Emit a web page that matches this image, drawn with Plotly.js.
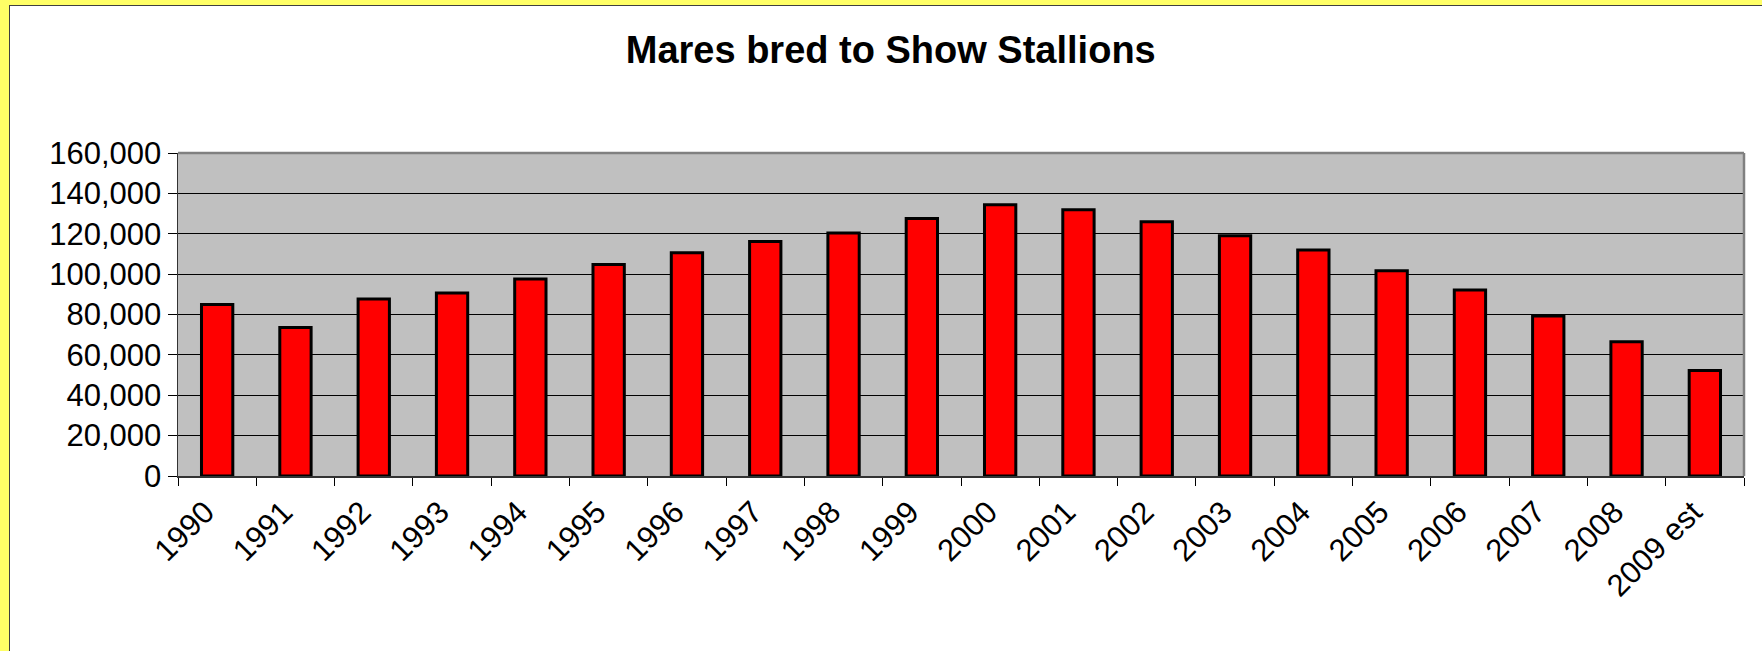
<!DOCTYPE html>
<html>
<head>
<meta charset="utf-8">
<script src="https://cdn.plot.ly/plotly-3.0.1.min.js"></script>
<style>
  html, body { margin: 0; padding: 0; background: #FFFF66; width: 1762px; height: 651px; overflow: hidden; }
  #frame { position: absolute; left: 9px; top: 5px; width: 1753px; height: 646px; background: #ffffff;
           border-left: 1.5px solid #404040; border-top: 1.5px solid #404040; box-sizing: border-box; }
  #chart { position: absolute; left: 0; top: 0; width: 1751px; height: 644px; }
</style>
</head>
<body>
<div id="frame"><div id="chart"></div></div>
<script>
const years = ['1990','1991','1992','1993','1994','1995','1996','1997','1998','1999',
               '2000','2001','2002','2003','2004','2005','2006','2007','2008','2009 est'];
const maresBred = [85000, 73500, 87700, 90700, 97600, 104800, 110600, 116200, 120400, 127500,
                   134400, 131900, 126000, 119000, 112000, 101700, 92100, 79300, 66500, 52300];
const chartTitle = 'Mares bred to Show Stallions';

const trace = {
  type: 'bar',
  x: years,
  y: maresBred,
  marker: { color: '#FF0000', line: { color: '#000000', width: 3 } },
  hoverinfo: 'x+y'
};

const layout = {
  width: 1751,
  height: 644,
  margin: { l: 168, r: 17, t: 147, b: 174 },
  paper_bgcolor: '#ffffff',
  plot_bgcolor: '#C0C0C0',
  bargap: 0.6,
  showlegend: false,
  font: { family: '"Liberation Sans", Arial, sans-serif', color: '#000000' },
  title: {
    text: '<b>' + chartTitle + '</b>',
    font: { size: 38, family: '"Liberation Sans", Arial, sans-serif', color: '#000000' },
    xref: 'container', x: 0.503, xanchor: 'center',
    yref: 'container', y: 0.932, yanchor: 'middle'
  },
  xaxis: {
    type: 'category',
    tickangle: -45,
    tickfont: { size: 31 },
    ticks: 'outside',
    tickson: 'boundaries',
    ticklen: 8,
    tickcolor: '#000000',
    tickwidth: 1,
    ticklabelshift: -12,
    ticklabelstandoff: 4,
    showline: true,
    linecolor: '#333333',
    linewidth: 1.5,
    showgrid: false,
    zeroline: false
  },
  yaxis: {
    range: [0, 160000],
    dtick: 20000,
    tick0: 0,
    tickformat: ',d',
    tickfont: { size: 31 },
    ticks: 'outside',
    ticklen: 9,
    tickcolor: '#000000',
    tickwidth: 1,
    showline: true,
    linecolor: '#333333',
    linewidth: 1.5,
    showgrid: true,
    gridcolor: '#000000',
    gridwidth: 1,
    zeroline: false
  },
  shapes: [
    { type: 'line', xref: 'paper', yref: 'paper', x0: 0, x1: 1, y0: 1, y1: 1,
      line: { color: '#808080', width: 2.5 } },
    { type: 'line', xref: 'paper', yref: 'paper', x0: 1, x1: 1, y0: 0, y1: 1,
      line: { color: '#808080', width: 2.5 } }
  ]
};

Plotly.newPlot('chart', [trace], layout, { displayModeBar: false, staticPlot: true });
</script>
</body>
</html>
